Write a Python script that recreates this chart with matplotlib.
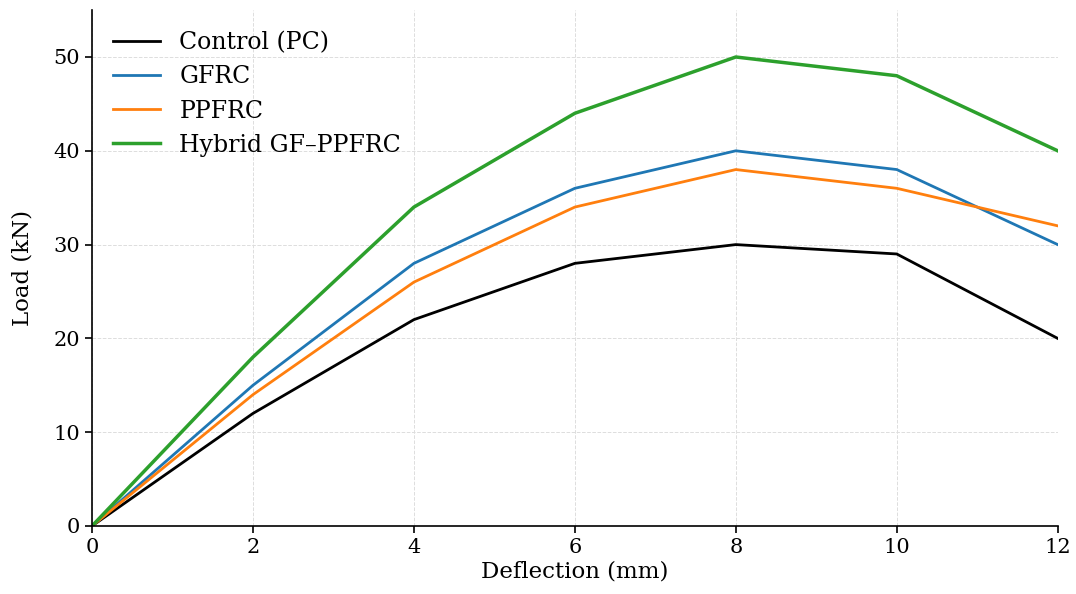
import matplotlib
matplotlib.use("Agg")
import matplotlib.pyplot as plt

deflection = [0, 2, 4, 6, 8, 10, 12]
control = [0, 12, 22, 28, 30, 29, 20]
gfrc = [0, 15, 28, 36, 40, 38, 30]
ppfrc = [0, 14, 26, 34, 38, 36, 32]
hybrid = [0, 18, 34, 44, 50, 48, 40]

plt.rcParams['font.family'] = ['DejaVu Serif']
plt.rcParams['font.size'] = 15

fig = plt.figure(figsize=(10.76, 5.94), dpi=100)
ax = fig.add_axes([0.0855, 0.1145, 0.8975, 0.8685])

ax.plot(deflection, control, color='black', lw=2, label='Control (PC)')
ax.plot(deflection, gfrc, color='#1f77b4', lw=2, label='GFRC')
ax.plot(deflection, ppfrc, color='#ff7f0e', lw=2, label='PPFRC')
ax.plot(deflection, hybrid, color='#2ca02c', lw=2.5, label='Hybrid GF\u2013PPFRC')

ax.set_xlim(0, 12)
ax.set_ylim(0, 55)
ax.set_xticks(deflection)
ax.set_yticks([0, 10, 20, 30, 40, 50])
ax.tick_params(labelsize=15, length=5, width=1.2)
ax.set_xlabel('Deflection (mm)', fontsize=16.5, labelpad=3)
ax.set_ylabel('Load (kN)', fontsize=16.5, labelpad=14)
ax.grid(True, linestyle='--', color='#dddddd', lw=0.7)
ax.spines['top'].set_visible(False)
ax.spines['right'].set_visible(False)
ax.spines['left'].set_linewidth(1.2)
ax.spines['bottom'].set_linewidth(1.2)
ax.legend(loc='upper left', frameon=False, handlelength=2.0, fontsize=17,
          labelspacing=0.47, borderaxespad=0.5)

fig.savefig('out.png', dpi=100)
